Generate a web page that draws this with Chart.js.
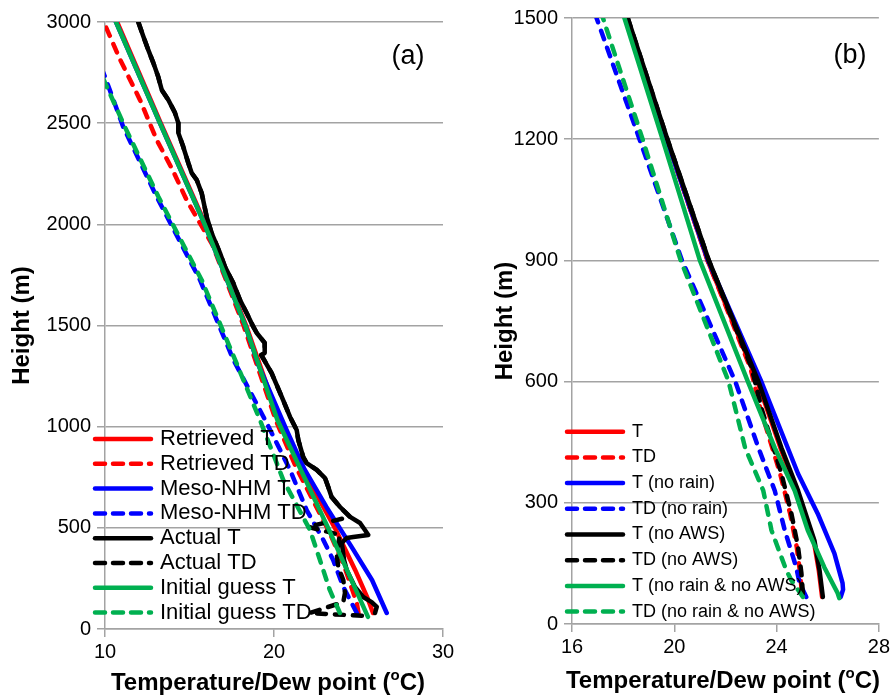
<!DOCTYPE html>
<html>
<head>
<meta charset="utf-8">
<script src="https://cdn.jsdelivr.net/npm/chart.js@4.4.1/dist/chart.umd.min.js"></script>
<style>
  body { margin: 0; background: #fff; }
  #wrap { position: relative; width: 893px; height: 697px; overflow: hidden; }
  canvas { position: absolute; top: 0; }
</style>
</head>
<body>
<div id="wrap">
  <canvas id="chartA" width="460" height="697" style="left:0"></canvas>
  <canvas id="chartB" width="433" height="697" style="left:460px"></canvas>
</div>
<script>
// ---------- panel (a): heights (m) and temperatures (C) ----------
const hRetT  = [79, 150, 292, 500, 820, 1033, 1500, 2000, 2500, 3000];
const tRetT  = [25.86, 25.55, 24.8, 23.6, 21.5, 20.3, 18.35, 15.95, 13.3, 10.72];

const hRetTD = [79, 128, 300, 474, 800, 1033, 1500, 1900, 2120, 2269, 2417, 2615, 2813, 2986, 3000];
const tRetTD = [25.0, 24.9, 24.2, 23.3, 21.3, 20.1, 18.2, 16.35, 14.83, 14.0, 13.06, 12.07, 10.9, 10.0, 9.93];

const hMesoT = [79, 242, 405, 603, 790, 983, 1300, 1500, 2000, 2500, 3000];
const tMesoT = [26.67, 25.8, 24.6, 23.1, 21.8, 20.75, 19.1, 18.3, 15.9, 13.25, 10.65];

const hMesoTD = [79, 208, 341, 440, 588, 786, 1018, 1330, 1725, 2136, 2481, 2729, 2750];
const tMesoTD = [24.9, 24.1, 23.5, 22.92, 21.93, 20.95, 19.57, 17.6, 15.62, 13.06, 11.08, 10.0, 9.9];

const hActT = [79, 109, 133, 158, 208, 292, 340, 425, 450, 455, 465, 489, 524, 554, 603, 652, 702, 746, 786,
  820, 850, 934, 984, 1048, 1147, 1265, 1354, 1364, 1414, 1463, 1493, 1562, 1626, 1710, 1790, 1859, 1957,
  2037, 2155, 2219, 2254, 2303, 2383, 2452, 2501, 2551, 2615, 2664, 2729, 2798, 2862, 2928, 3000];
const tActT = [25.98, 26.08, 25.78, 25.28, 24.79, 24.30, 24.15, 24.01, 24.30, 24.69, 25.58, 25.38, 25.09, 24.50,
  23.91, 23.41, 23.21, 23.02, 22.53, 21.93, 21.73, 21.44, 21.34, 20.95, 20.46, 19.86, 19.25, 19.45, 19.45,
  18.98, 18.78, 18.38, 17.99, 17.59, 17.10, 16.80, 16.31, 16.02, 15.72, 15.43, 15.13, 14.93, 14.63, 14.34,
  14.34, 14.14, 13.75, 13.36, 13.15, 12.86, 12.56, 12.27, 11.97];

// lower part of the observed dew point; above 554 m it lies on the observed T
const hActTDlow = [65, 79, 133, 178, 242, 307, 376, 465, 505, 554];
const tActTDlow = [25.2, 22.1, 24.1, 24.2, 24.1, 23.8, 23.7, 23.9, 22.0, 24.5];

const hInitT = [60, 500, 1033, 1500, 2000, 2500, 3000];
const tInitT = [25.56, 23.2, 20.2, 18.3, 15.9, 13.25, 10.65];

const hInitTD = [79, 193, 341, 489, 736, 1033, 1330, 1725, 2136, 2481, 2700, 2720];
const tInitTD = [23.9, 23.3, 22.72, 22.13, 20.55, 19.17, 17.7, 15.72, 13.16, 11.18, 10.0, 9.9];

const labelsA = ['Retrieved T', 'Retrieved TD', 'Meso-NHM T', 'Meso-NHM TD',
  'Actual T', 'Actual TD', 'Initial guess T', 'Initial guess TD'];
const xTicksA = [10, 20, 30];
const yTicksA = [0, 500, 1000, 1500, 2000, 2500, 3000];

// ---------- panel (b) ----------
const hB1 = [67, 133, 207, 330, 436, 600, 900, 1200, 1500];
const tB1 = [25.78, 25.65, 25.45, 24.8, 24.15, 23.25, 21.3, 19.7, 18.15];          // T

const hB2 = [84, 126, 190, 273, 372, 534, 633, 900, 1200, 1500];
const tB2 = [24.98, 24.92, 24.79, 24.53, 24.14, 23.36, 22.98, 21.3, 19.7, 18.15];  // TD

const hB3 = [67, 85, 101, 175, 273, 372, 599, 900, 1200, 1500];
const tB3 = [26.51, 26.6, 26.58, 26.26, 25.61, 24.84, 23.41, 21.32, 19.7, 18.12]; // T (no rain)

const hB4 = [67, 101, 140, 232, 330, 436, 601, 900, 1200, 1500];
const tB4 = [25.16, 24.9, 24.77, 24.32, 23.93, 23.29, 22.38, 20.3, 18.64, 16.96]; // TD (no rain)

const hB5 = [67, 133, 207, 330, 436, 600, 900, 1200, 1500];
const tB5 = [25.81, 25.68, 25.48, 24.84, 24.19, 23.29, 21.35, 19.73, 18.18];        // T (no AWS)

const hB6 = [76, 126, 190, 273, 372, 534, 633, 900, 1200, 1500];
const tB6 = [25.03, 24.97, 24.84, 24.58, 24.19, 23.41, 23.03, 21.35, 19.73, 18.18]; // TD (no AWS)

const hB7 = [64, 76, 140, 232, 330, 436, 601, 900, 1200, 1500];
const tB7 = [26.45, 26.39, 25.87, 25.22, 24.71, 23.93, 22.87, 21.0, 19.54, 18.05]; // T (no rain & no AWS)

const hB8 = [67, 108, 133, 232, 330, 436, 601, 900, 1200, 1500];
const tB8 = [25.03, 24.58, 24.38, 23.8, 23.48, 22.77, 22.12, 20.25, 18.76, 17.21]; // TD (no rain & no AWS)

const labelsB = ['T', 'TD', 'T (no rain)', 'TD (no rain)', 'T (no AWS)', 'TD (no AWS)',
  'T (no rain & no AWS)', 'TD (no rain & no AWS)'];
const xTicksB = [16, 20, 24, 28];
const yTicksB = [0, 300, 600, 900, 1200, 1500];

// ---------- helpers ----------
const FONT = '"Liberation Sans", Arial, Helvetica, sans-serif';
Chart.defaults.font.family = FONT;
Chart.defaults.color = '#000';

const colors = ['#ff0000', '#ff0000', '#0000ff', '#0000ff', '#000000', '#000000', '#00b050', '#00b050'];
const DASH = [9, 9];

function pts(h, t) {
  return h.map((v, i) => ({ x: t[i], y: v }));
}

function makeSets(labels, series) {
  return series.map((s, i) => ({
    label: labels[i],
    data: pts(s[0], s[1]),
    borderColor: colors[i],
    borderWidth: 4.5,
    borderDash: i % 2 ? DASH : [],
    borderCapStyle: 'round',
    borderJoinStyle: 'round',
    pointRadius: 0,
    tension: 0,
    fill: false,
    order: series.length - i   // later series drawn on top, like the original
  }));
}

// legend, axis titles and panel tag drawn on the canvas
const decor = {
  id: 'decor',
  afterDraw(chart, args, o) {
    const ctx = chart.ctx, ca = chart.chartArea;
    ctx.save();
    // legend
    ctx.font = o.legendFont + 'px ' + FONT;
    ctx.textBaseline = 'middle';
    ctx.textAlign = 'left';
    chart.data.datasets.forEach((ds, i) => {
      const y = o.legendY + i * o.legendStep;
      ctx.beginPath();
      ctx.strokeStyle = ds.borderColor;
      ctx.lineWidth = 4.5;
      ctx.lineCap = 'round';
      ctx.setLineDash(ds.borderDash.length ? [10, 8] : []);
      ctx.moveTo(o.legendX + 2, y);
      ctx.lineTo(o.legendX + 58, y);
      ctx.stroke();
      ctx.setLineDash([]);
      ctx.fillStyle = '#000';
      ctx.fillText(ds.label, o.legendX + 67, y);
    });
    // panel tag
    ctx.font = '27px ' + FONT;
    ctx.textAlign = 'center';
    ctx.fillText(o.tag, o.tagX, o.tagY);
    // y title
    ctx.font = 'bold 24px ' + FONT;
    ctx.save();
    ctx.translate(o.yTitleX, (ca.top + ca.bottom) / 2);
    ctx.rotate(-Math.PI / 2);
    ctx.fillText('Height (m)', 0, 0);
    ctx.restore();
    // x title with superscript o
    const a = 'Temperature/Dew point (', c = 'C)';
    ctx.font = 'bold 24px ' + FONT;
    const wa = ctx.measureText(a).width, wc = ctx.measureText(c).width;
    ctx.font = 'bold 15px ' + FONT;
    const wo = ctx.measureText('o').width;
    let x = o.xTitleX - (wa + wo + wc) / 2;
    ctx.textAlign = 'left';
    ctx.font = 'bold 24px ' + FONT;
    ctx.fillText(a, x, o.xTitleY);
    x += wa;
    ctx.font = 'bold 15px ' + FONT;
    ctx.fillText('o', x, o.xTitleY - 7);
    x += wo;
    ctx.font = 'bold 24px ' + FONT;
    ctx.fillText(c, x, o.xTitleY);
    ctx.restore();
  }
};

function makeChart(id, sets, xr, yr, xTicks, yTicks, box, deco) {
  const gray = '#a3a3a3';
  return new Chart(document.getElementById(id), {
    type: 'line',
    data: { datasets: sets },
    plugins: [decor],
    options: {
      responsive: false,
      animation: false,
      events: [],
      layout: { padding: { top: box.top, right: box.right, left: 0, bottom: 0 } },
      plugins: { legend: { display: false }, tooltip: { enabled: false }, decor: deco },
      scales: {
        x: {
          type: 'linear', min: xr[0], max: xr[1],
          afterFit: s => { s.height = box.xh; },
          afterBuildTicks: s => { s.ticks = xTicks.map(v => ({ value: v })); },
          grid: { drawOnChartArea: false, drawTicks: true, tickLength: 8, color: gray, lineWidth: 1.5 },
          border: { color: gray, width: 1.5 },
          ticks: { font: { size: 20 }, padding: 3, maxRotation: 0, callback: v => String(v) }
        },
        y: {
          type: 'linear', min: yr[0], max: yr[1],
          afterFit: s => { s.width = box.yw; },
          afterBuildTicks: s => { s.ticks = yTicks.map(v => ({ value: v })); },
          grid: { color: gray, lineWidth: 1.5, tickLength: 8 },
          border: { color: gray, width: 1.5 },
          ticks: { font: { size: 20 }, padding: 6, callback: v => String(v) }
        }
      }
    }
  });
}

const setsA = makeSets(labelsA, [
  [hRetT, tRetT], [hRetTD, tRetTD], [hMesoT, tMesoT], [hMesoTD, tMesoTD],
  [hActT, tActT],
  [hActTDlow.concat(hActT.filter(h => h > 554)), tActTDlow.concat(tActT.filter((t, i) => hActT[i] > 554))],
  [hInitT, tInitT], [hInitTD, tInitTD]
]);

const setsB = makeSets(labelsB, [
  [hB1, tB1], [hB2, tB2], [hB3, tB3], [hB4, tB4], [hB5, tB5], [hB6, tB6], [hB7, tB7], [hB8, tB8]
]);

makeChart('chartA', setsA, [10, 30], [0, 3000], xTicksA, yTicksA,
  { top: 22, right: 17, yw: 105, xh: 68 },
  { legendX: 93, legendY: 439, legendStep: 24.8, legendFont: 22,
    tag: '(a)', tagX: 408, tagY: 57, yTitleX: 22, xTitleX: 268, xTitleY: 683 });

makeChart('chartB', setsB, [16, 28], [0, 1500], xTicksB, yTicksB,
  { top: 15, right: 13, yw: 112, xh: 73 },
  { legendX: 105, legendY: 431.7, legendStep: 25.7, legendFont: 18,
    tag: '(b)', tagX: 390, tagY: 56, yTitleX: 45, xTitleX: 263, xTitleY: 681 });
</script>
</body>
</html>
